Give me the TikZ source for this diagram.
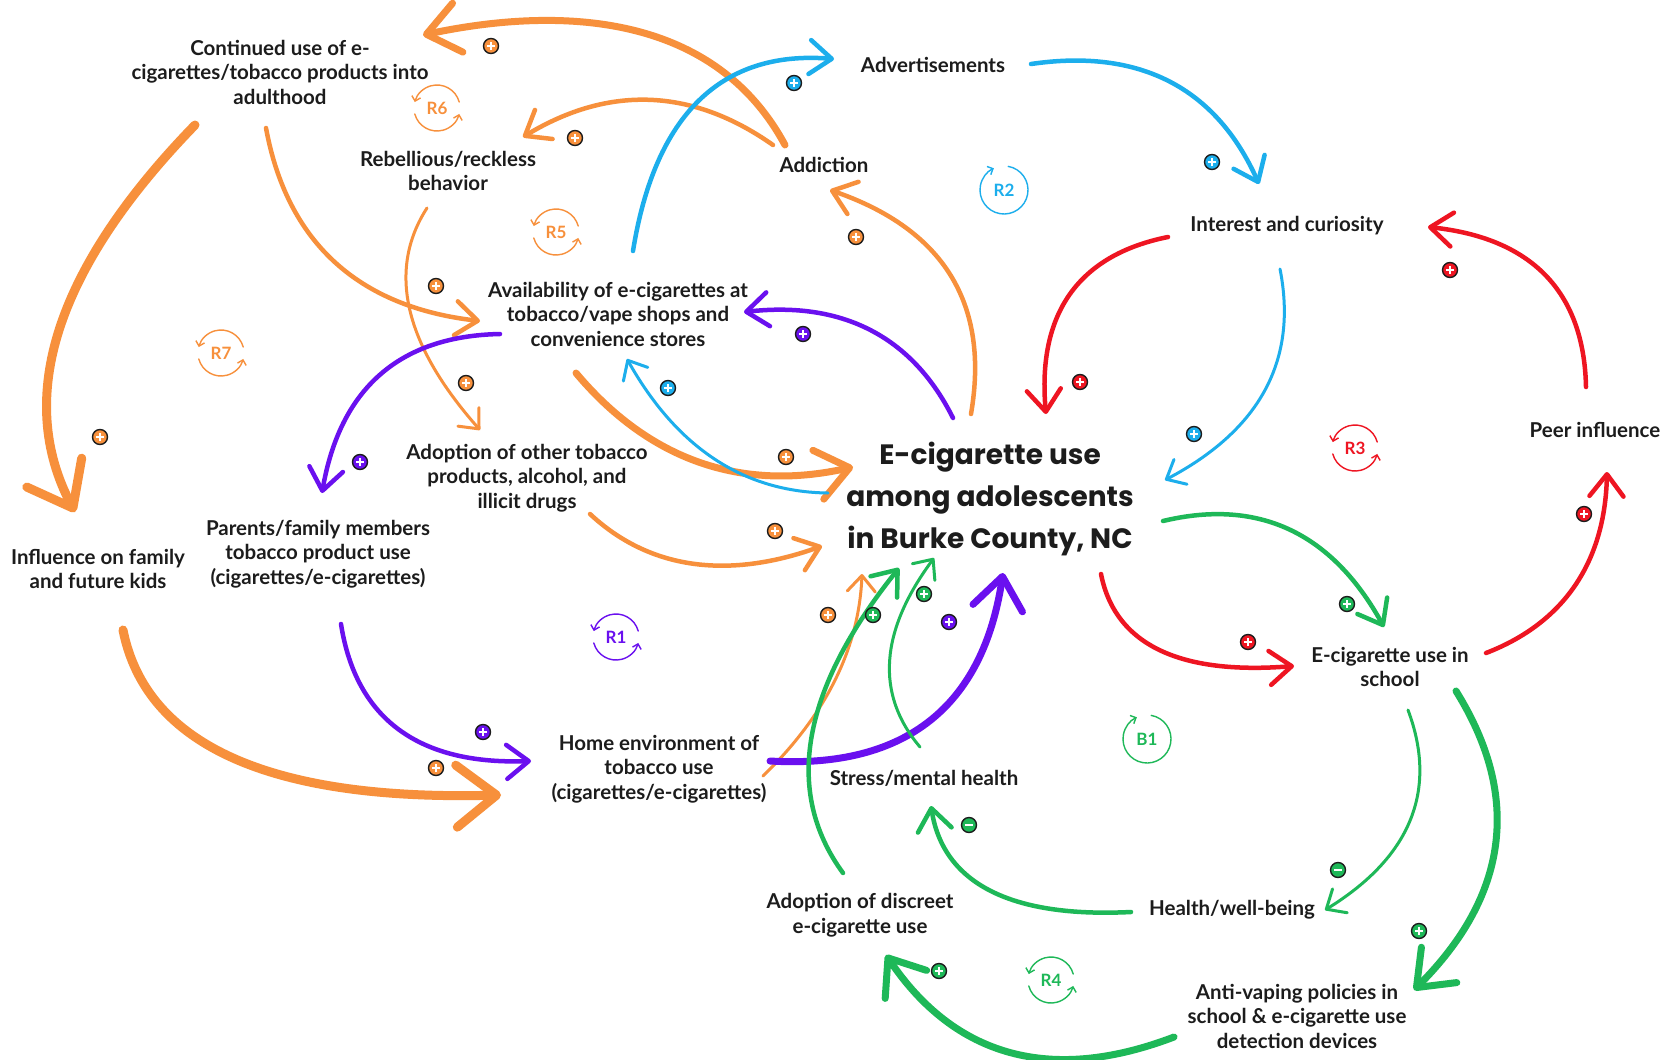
\documentclass[tikz,border=0pt]{standalone}
\usepackage{fontspec}
\setmainfont{Lato}
\newfontfamily\headfont{Poppins}
\usetikzlibrary{arrows.meta}

\definecolor{corange}{HTML}{F7903C}
\definecolor{cblue}{HTML}{1CAEEC}
\definecolor{cpurple}{HTML}{6A10EF}
\definecolor{cred}{HTML}{EE1522}
\definecolor{cgreen}{HTML}{1EB858}
\definecolor{ink}{HTML}{1C1C1C}

\tikzset{
  lbl/.style={align=center, text=ink, inner sep=2pt,
    font=\fontsize{20.5}{24.5}\selectfont\bfseries},
  ttl/.style={align=center, text=ink, inner sep=2pt,
    font=\headfont\fontsize{28}{42}\selectfont\bfseries},
  looptxt/.style={inner sep=0pt, font=\fontsize{17}{17}\selectfont\bfseries},
  link/.style={draw=#1, line cap=round, line join=round},
  wA/.style={line width=3pt, -{Straight Barb[length=16pt, width=28pt, round]}},
  wB/.style={line width=4.5pt, -{Straight Barb[length=22pt, width=34pt, round]}},
  wC/.style={line width=7pt, -{Straight Barb[length=32pt, width=50pt, round]}},
  wD/.style={line width=9pt, -{Straight Barb[length=40pt, width=62pt, round]}},
  pol/.style={circle, draw=ink, line width=1.4pt, fill=#1, minimum size=15pt, inner sep=0pt},
  pplus/.style={pol=#1, path picture={
    \draw[white, line width=2.2pt]
      ([xshift=-3.8pt]path picture bounding box.center) -- ([xshift=3.8pt]path picture bounding box.center)
      ([yshift=-3.8pt]path picture bounding box.center) -- ([yshift=3.8pt]path picture bounding box.center);}},
  pminus/.style={pol=#1, path picture={
    \draw[white, line width=2.2pt]
      ([xshift=-3.8pt]path picture bounding box.center) -- ([xshift=3.8pt]path picture bounding box.center);}},
}

% loop marker: name, position, colour, label, kind (0 = two arcs, 1 = one arc)
\newcommand\loopsym[5]{%
  \node[looptxt, text=#3] (#1) at (#2) {#4};
  \begin{scope}[shift={(#2)}, yscale=-1, color=#3, line width=1.4pt, line cap=round]
    \ifnum#5=0
      \draw[-{Straight Barb[length=4.5pt,width=9pt]}] (15:23) arc[start angle=15, end angle=165, radius=23];
      \draw[-{Straight Barb[length=4.5pt,width=9pt]}] (195:23) arc[start angle=195, end angle=345, radius=23];
    \else
      \draw[-{Straight Barb[length=4.5pt,width=9pt]}] (80:24) arc[start angle=80, end angle=-245, radius=24];
    \fi
  \end{scope}}

\begin{document}
\begin{tikzpicture}[x=1pt, y=-1pt]
\path[use as bounding box, fill=white] (0,0) rectangle (1673,1060);

% ---- variables ----
\node[lbl] (cont)  at (280,72)   {Continued use of e-\\cigarettes/tobacco products into\\adulthood};
\node[lbl] (reb)   at (448,171)  {Rebellious/reckless\\behavior};
\node[lbl] (add)   at (824,165)  {Addiction};
\node[lbl] (adv)   at (933,65)   {Advertisements};
\node[lbl] (int)   at (1287,226) {Interest and curiosity};
\node[lbl] (peer)  at (1595,430) {Peer influence};
\node[lbl] (avail) at (618,314)  {Availability of e-cigarettes at\\tobacco/vape shops and\\convenience stores};
\node[lbl] (adopt) at (527,478)  {Adoption of other tobacco\\products, alcohol, and\\illicit drugs};
\node[lbl] (par)   at (318,554)  {Parents/family members\\tobacco product use\\(cigarettes/e-cigarettes)};
\node[lbl] (infl)  at (98,569)   {Influence on family\\and future kids};
\node[ttl] (main)  at (990,499)  {E-cigarette use\\among adolescents\\in Burke County, NC};
\node[lbl] (sch)   at (1390,667) {E-cigarette use in\\school};
\node[lbl] (home)  at (659,769)  {Home environment of\\tobacco use\\(cigarettes/e-cigarettes)};
\node[lbl] (str)   at (924,778)  {Stress/mental health};
\node[lbl] (hea)   at (1232,910) {Health/well-being};
\node[lbl] (disc)  at (860,915)  {Adoption of discreet\\e-cigarette use};
\node[lbl] (anti)  at (1297,1016) {Anti-vaping policies in\\school \& e-cigarette use\\detection devices};

% ---- loop markers ----
\loopsym{loopR6}{437,108}{corange}{R6}{0}
\loopsym{loopR5}{556,232}{corange}{R5}{0}
\loopsym{loopR7}{221,353}{corange}{R7}{0}
\loopsym{loopR2}{1004,190}{cblue}{R2}{1}
\loopsym{loopR3}{1355,448}{cred}{R3}{0}
\loopsym{loopR1}{616,637}{cpurple}{R1}{0}
\loopsym{loopB1}{1147,739}{cgreen}{B1}{1}
\loopsym{loopR4}{1051,980}{cgreen}{R4}{0}

% ---- orange links ----
\draw[link=corange, wC] ([shift={(-39,-20)}]add.center) .. controls (715,15) and (565,5) .. ([shift={(143,-37)}]cont.center);
\draw[link=corange, wB] ([shift={(-51,-20)}]add.center) .. controls (692,88) and (609,85) .. ([shift={(75,-34)}]reb.center);
\draw[link=corange, wB] ([shift={(-14,56)}]cont.center) .. controls (287,242) and (358,307) .. ([shift={(-138,7)}]avail.center);
\draw[link=corange, wD] ([shift={(-85,53)}]cont.center) .. controls (55,269) and (15,398) .. ([shift={(-23,-57)}]infl.center);
\draw[link=corange, wA] ([shift={(-21,37)}]reb.center) .. controls (387,270) and (404,344) .. ([shift={(-47,-48)}]adopt.center);
\draw[link=corange, wC] ([shift={(-42,59)}]avail.center) .. controls (649,460) and (741,492) .. ([shift={(-137,-32)}]main.center);
\draw[link=corange, wB] ([shift={(63,36)}]adopt.center) .. controls (649,569) and (727,580) .. ([shift={(-168,47)}]main.center);
\draw[link=corange, wB] ([shift={(-19,-85)}]main.center) .. controls (990,303) and (943,229) .. ([shift={(6,25)}]add.center);
\draw[link=corange, wD] ([shift={(25,61)}]infl.center) .. controls (146,746) and (272,801) .. ([shift={(-158,26)}]home.center);
\draw[link=corange, wA] ([shift={(104,7)}]home.center) .. controls (826,715) and (859,648) .. ([shift={(-128,75)}]main.center);

% ---- blue links ----
\draw[link=cblue, wB] ([shift={(15,-63)}]avail.center) .. controls (655,114) and (722,50) .. ([shift={(-99,-6)}]adv.center);
\draw[link=cblue, wB] ([shift={(98,-1)}]adv.center) .. controls (1140,48) and (1216,88) .. ([shift={(-28,-42)}]int.center);
\draw[link=cblue, wA] ([shift={(-7,43)}]int.center) .. controls (1298,360) and (1260,430) .. ([shift={(175,-19)}]main.center);
\draw[link=cblue, wA] ([shift={(-162,-6)}]main.center) .. controls (744,492) and (677,448) .. ([shift={(9,45)}]avail.center);

% ---- purple links ----
\draw[link=cpurple, wB] ([shift={(-37,-81)}]main.center) .. controls (912,336) and (842,301) .. ([shift={(126,-2)}]avail.center);
\draw[link=cpurple, wB] ([shift={(-118,20)}]avail.center) .. controls (399,336) and (340,389) .. ([shift={(4,-61)}]par.center);
\draw[link=cpurple, wB] ([shift={(23,70)}]par.center) .. controls (356,720) and (420,765) .. ([shift={(-128,-8)}]home.center);
\draw[link=cpurple, wC] ([shift={(111,-8)}]home.center) .. controls (906,769) and (983,706) .. ([shift={(13,74)}]main.center);

% ---- red links ----
\draw[link=cred, wB] ([shift={(-119,11)}]int.center) .. controls (1078,255) and (1037,314) .. ([shift={(56,-85)}]main.center);
\draw[link=cred, wB] ([shift={(-9,-43)}]peer.center) .. controls (1584,291) and (1531,238) .. ([shift={(141,1)}]int.center);
\draw[link=cred, wB] ([shift={(111,75)}]main.center) .. controls (1115,645) and (1180,675) .. ([shift={(-96,-1)}]sch.center);
\draw[link=cred, wB] ([shift={(96,-14)}]sch.center) .. controls (1564,623) and (1605,562) .. ([shift={(12,42)}]peer.center);

% ---- green links ----
\draw[link=cgreen, wB] ([shift={(173,22)}]main.center) .. controls (1259,498) and (1332,533) .. ([shift={(-6,-40)}]sch.center);
\draw[link=cgreen, wA] ([shift={(18,43)}]sch.center) .. controls (1438,790) and (1411,857) .. ([shift={(93,0)}]hea.center);
\draw[link=cgreen, wC] ([shift={(66,24)}]sch.center) .. controls (1522,797) and (1508,896) .. ([shift={(117,-26)}]anti.center);
\draw[link=cgreen, wB] ([shift={(-101,2)}]hea.center) .. controls (1010,918) and (943,883) .. ([shift={(7,28)}]str.center);
\draw[link=cgreen, wC] ([shift={(-123,21)}]anti.center) .. controls (1051,1084) and (955,1057) .. ([shift={(26,40)}]disc.center);
\draw[link=cgreen, wB] ([shift={(-17,-42)}]disc.center) .. controls (783,791) and (802,689) .. ([shift={(-91,69)}]main.center);
\draw[link=cgreen, wA] ([shift={(-4,-31)}]str.center) .. controls (875,694) and (880,631) .. ([shift={(-56,59)}]main.center);

% ---- polarity markers ----
\node[pplus=corange] (s1)  at (491,46)  {};
\node[pplus=corange] (s2)  at (575,138) {};
\node[pplus=cblue]   (s3)  at (794,83)  {};
\node[pplus=cblue]   (s4)  at (1212,162) {};
\node[pplus=corange] (s5)  at (856,237) {};
\node[pplus=corange] (s6)  at (436,286) {};
\node[pplus=cpurple] (s7)  at (803,334) {};
\node[pplus=cred]    (s8)  at (1450,270) {};
\node[pplus=cred]    (s9)  at (1080,382) {};
\node[pplus=corange] (s10) at (466,383) {};
\node[pplus=cblue]   (s11) at (668,388) {};
\node[pplus=cblue]   (s12) at (1194,434) {};
\node[pplus=corange] (s13) at (100,437) {};
\node[pplus=cpurple] (s14) at (360,462) {};
\node[pplus=corange] (s15) at (786,457) {};
\node[pplus=corange] (s16) at (775,531) {};
\node[pplus=cred]    (s17) at (1584,514) {};
\node[pplus=cgreen]  (s18) at (1347,604) {};
\node[pplus=corange] (s19) at (828,615) {};
\node[pplus=cgreen]  (s20) at (873,615) {};
\node[pplus=cgreen]  (s21) at (924,594) {};
\node[pplus=cpurple] (s22) at (949,622) {};
\node[pplus=cred]    (s23) at (1248,642) {};
\node[pplus=cpurple] (s24) at (483,732) {};
\node[pplus=corange] (s25) at (436,768) {};
\node[pminus=cgreen] (s26) at (969,825) {};
\node[pminus=cgreen] (s27) at (1338,870) {};
\node[pplus=cgreen]  (s28) at (1419,931) {};
\node[pplus=cgreen]  (s29) at (939,971) {};
\end{tikzpicture}
\end{document}
